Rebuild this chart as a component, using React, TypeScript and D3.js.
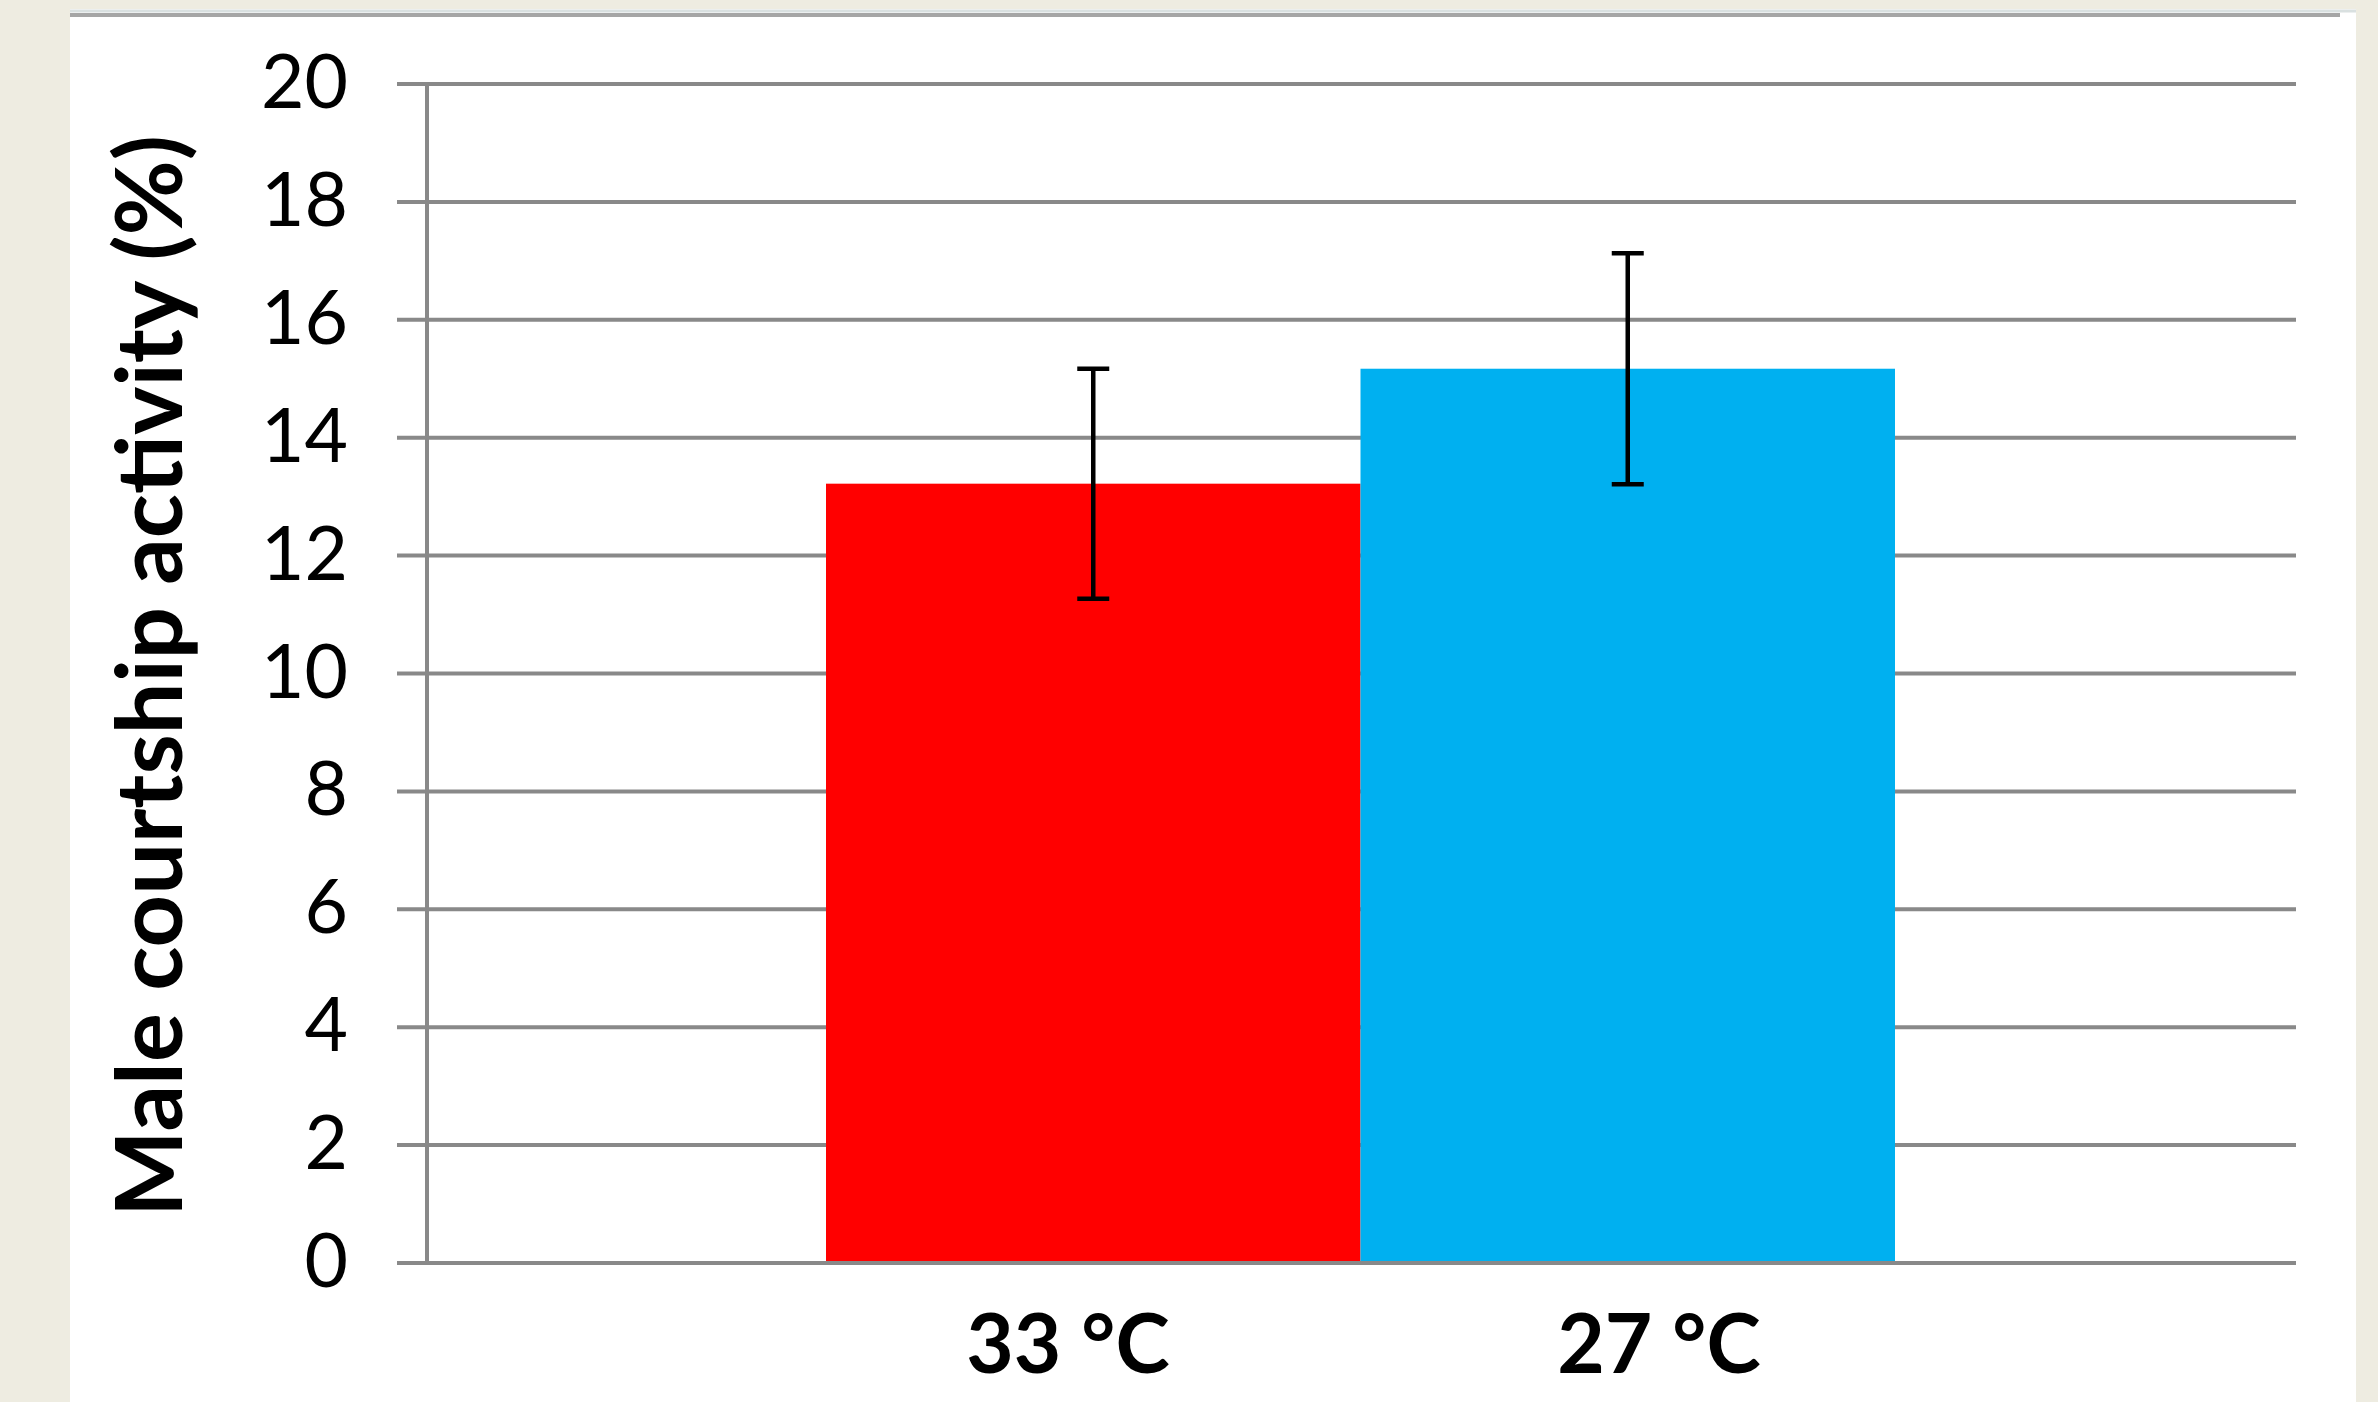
import React, { useRef, useEffect } from 'react';
import * as d3 from 'd3';

// chart data
const categories = ['33 °C', '27 °C'];
const activity = [13.22, 15.17];
const errors = [1.95, 1.96];
const barColors = ['#FF0000', '#00B0F0'];
const yTicks = [0, 2, 4, 6, 8, 10, 12, 14, 16, 18, 20];
const yTitle = 'Male courtship activity (%)';

const width = 2378;
const height = 1402;
const font = 'Lato, "Open Sans", sans-serif';

const App: React.FC = () => {
  const svgRef = useRef<SVGSVGElement>(null);

  useEffect(() => {
    document.body.style.margin = '0';
    if (svgRef.current === null) return;
    const svg = d3.select(svgRef.current);
    svg.selectAll('*').remove();

    // page background and the white chart panel
    svg.append('rect').attr('width', width).attr('height', height).attr('fill', '#EEECE1');
    svg.append('rect').attr('x', 70).attr('y', 9).attr('width', 2286).attr('height', height).attr('fill', '#ffffff');
    svg.append('line').attr('x1', 70).attr('x2', 2356).attr('y1', 11).attr('y2', 11)
      .attr('stroke', '#d9e0e0').attr('stroke-width', 3);
    svg.append('line').attr('x1', 70).attr('x2', 2340).attr('y1', 15).attr('y2', 15)
      .attr('stroke', '#a6a6a6').attr('stroke-width', 4);

    const plotLeft = 427;
    const plotRight = 2296;
    const tickLen = 30;

    const y = d3.scaleLinear().domain([0, 20]).range([1263, 84]);
    const x = d3.scaleBand<string>().domain(categories).range([826, 1895]).paddingInner(0).paddingOuter(0);
    const labelX = d3.scalePoint<string>().domain(categories).range([1068, 1659]);

    // gridlines (with tick stubs left of the axis)
    svg.append('g')
      .selectAll('line')
      .data(yTicks)
      .join('line')
      .attr('x1', plotLeft - tickLen)
      .attr('x2', plotRight)
      .attr('y1', (d) => y(d))
      .attr('y2', (d) => y(d))
      .attr('stroke', '#898989')
      .attr('stroke-width', 4);

    // y axis line
    svg.append('line')
      .attr('x1', plotLeft).attr('x2', plotLeft)
      .attr('y1', y(20)).attr('y2', y(0) + 2)
      .attr('stroke', '#898989').attr('stroke-width', 4);

    // tick labels
    svg.append('g')
      .selectAll('text')
      .data(yTicks)
      .join('text')
      .attr('x', 348)
      .attr('y', (d) => y(d) + 24)
      .attr('text-anchor', 'end')
      .attr('font-family', font)
      .attr('font-size', 75)
      .attr('fill', '#000')
      .text((d) => d);

    // bars
    svg.append('g')
      .selectAll('rect')
      .data(categories)
      .join('rect')
      .attr('x', (d) => x(d) as number)
      .attr('width', x.bandwidth())
      .attr('y', (d, i) => y(activity[i]))
      .attr('height', (d, i) => y(0) - y(activity[i]))
      .attr('fill', (d, i) => barColors[i]);

    // bottom axis line over the bars
    svg.append('line')
      .attr('x1', plotLeft - tickLen).attr('x2', plotRight)
      .attr('y1', y(0)).attr('y2', y(0))
      .attr('stroke', '#898989').attr('stroke-width', 4);

    // error bars
    const gErr = svg.append('g').attr('stroke', '#000').attr('stroke-width', 4.5);
    categories.forEach((c, i) => {
      const cx = (x(c) as number) + x.bandwidth() / 2;
      const hi = y(activity[i] + errors[i]);
      const lo = y(activity[i] - errors[i]);
      gErr.append('line').attr('x1', cx).attr('x2', cx).attr('y1', hi).attr('y2', lo);
      gErr.append('line').attr('x1', cx - 16).attr('x2', cx + 16).attr('y1', hi).attr('y2', hi);
      gErr.append('line').attr('x1', cx - 16).attr('x2', cx + 16).attr('y1', lo).attr('y2', lo);
    });

    // category labels
    svg.append('g')
      .selectAll('text')
      .data(categories)
      .join('text')
      .attr('x', (d) => labelX(d) as number)
      .attr('y', 1373)
      .attr('text-anchor', 'middle')
      .attr('font-family', font)
      .attr('font-weight', 'bold')
      .attr('font-size', 82)
      .attr('fill', '#000')
      .text((d) => d);

    // y axis title
    svg.append('text')
      .attr('transform', 'translate(182,676) rotate(-90)')
      .attr('text-anchor', 'middle')
      .attr('font-family', font)
      .attr('font-weight', 'bold')
      .attr('font-size', 92)
      .attr('textLength', 1082)
      .attr('lengthAdjust', 'spacingAndGlyphs')
      .attr('fill', '#000')
      .text(yTitle);
  }, []);

  return <svg ref={svgRef} width={width} height={height} style={{ display: 'block' }} />;
};

export default App;
